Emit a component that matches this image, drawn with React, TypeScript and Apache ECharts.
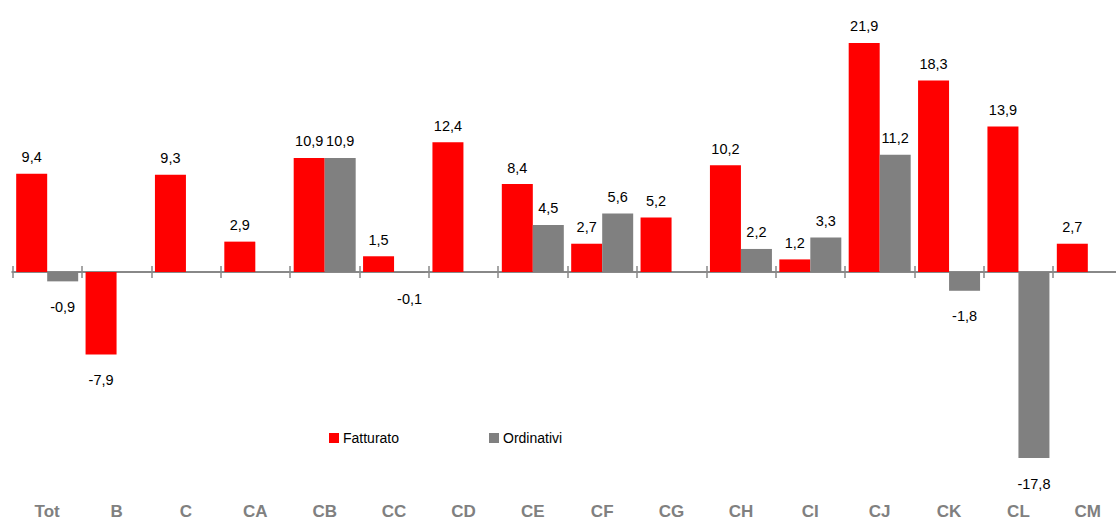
import React, { useEffect, useRef } from "react";
import * as echarts from "echarts";

const categories = ["Tot", "B", "C", "CA", "CB", "CC", "CD", "CE", "CF", "CG", "CH", "CI", "CJ", "CK", "CL", "CM"];
const fatturato: (number | null)[] = [9.4, -7.9, 9.3, 2.9, 10.9, 1.5, 12.4, 8.4, 2.7, 5.2, 10.2, 1.2, 21.9, 18.3, 13.9, 2.7];
const ordinativi: (number | null)[] = [-0.9, null, null, null, 10.9, -0.1, null, 4.5, 5.6, null, 2.2, 3.3, 11.2, -1.8, -17.8, null];

const FONT = "'Liberation Sans', Arial, sans-serif";
const Y_MIN = -22;
const Y_MAX = 24;

function toData(vals: (number | null)[]) {
  return vals.map((v) =>
    v === null
      ? null
      : {
          value: v,
          label: v < 0 ? { position: "bottom", distance: 18 } : { position: "top", distance: 9 },
        }
  );
}

export default function App() {
  const ref = useRef<HTMLDivElement>(null);
  useEffect(() => {
    if (!ref.current) return;
    const chart = echarts.init(ref.current, undefined, { renderer: "svg" });
    const label = {
      show: true,
      color: "#000",
      fontFamily: FONT,
      fontSize: 14.5,
      formatter: (p: any) => String(p.value).replace(".", ","),
    };
    chart.setOption({
      animation: false,
      grid: { left: 12.5, right: -6.5, top: 21, bottom: 18, containLabel: false, outerBoundsMode: "none" },
      legend: {
        left: 324,
        top: 426,
        itemWidth: 10,
        itemHeight: 10,
        itemGap: 90,
        icon: "rect",
        textStyle: { fontFamily: FONT, fontSize: 14, color: "#000", padding: [0, 0, 0, -1] },
        data: ["Fatturato", "Ordinativi"],
      },
      xAxis: [
        {
          type: "category",
          data: categories,
          position: "top",
          axisLine: { show: true, onZero: true, onZeroAxisIndex: 0, lineStyle: { color: "#888", width: 2 } },
          axisTick: { show: true, length: 6, lineStyle: { color: "#888", width: 1.5 } },
          axisLabel: { show: false },
        },
        {
          type: "category",
          data: categories,
          position: "bottom",
          axisLine: { show: true, onZero: true, onZeroAxisIndex: 1, lineStyle: { color: "#888", width: 2 } },
          axisTick: { show: true, length: 6, lineStyle: { color: "#888", width: 1.5 } },
          axisLabel: { show: false },
        },
        {
          type: "category",
          data: categories,
          position: "bottom",
          offset: 0,
          axisLine: { show: false, onZero: false },
          axisTick: { show: false },
          axisLabel: {
            show: true,
            margin: 1,
            color: "#808080",
            fontFamily: FONT,
            fontWeight: "bold",
            fontSize: 17,
          },
        },
      ],
      yAxis: [
        { type: "value", min: Y_MIN, max: Y_MAX, show: false, splitLine: { show: false } },
        { type: "value", min: Y_MIN, max: Y_MAX, show: false, splitLine: { show: false } },
      ],
      series: [
        {
          name: "Fatturato",
          type: "bar",
          xAxisIndex: 1,
          yAxisIndex: 0,
          data: toData(fatturato),
          barWidth: 31,
          barGap: "0%",
          itemStyle: { color: "#FF0000" },
          label,
        },
        {
          name: "Ordinativi",
          type: "bar",
          xAxisIndex: 1,
          yAxisIndex: 0,
          data: toData(ordinativi),
          barWidth: 31,
          barGap: "0%",
          itemStyle: { color: "#808080" },
          label,
        },
      ],
    });
    return () => chart.dispose();
  }, []);
  return <div ref={ref} style={{ width: 1116, height: 520, position: "absolute", left: 0, top: 0 }} />;
}
